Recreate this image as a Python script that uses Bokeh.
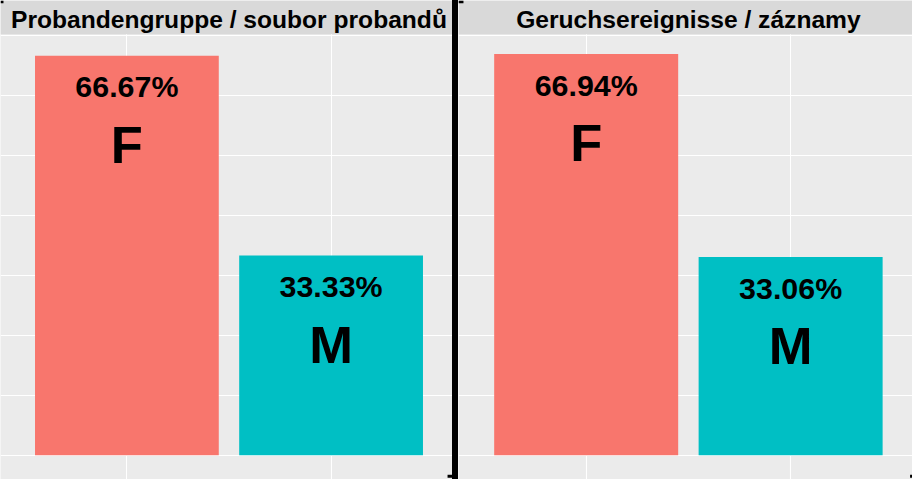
from bokeh.plotting import figure
from bokeh.models import Range1d, FixedTicker, BoxAnnotation, Label, ColumnDataSource, Div
from bokeh.layouts import row
from bokeh.embed import file_html
from bokeh.resources import INLINE
from bokeh.core.properties import value

# ---- data ----
panel_titles = ["Probandengruppe / soubor probandů", "Geruchsereignisse / záznamy"]
categories = ["F", "M"]
share_subjects = [66.67, 33.33]
share_records = [66.94, 33.06]
bar_colors = ["#F8766D", "#00BFC4"]
y_breaks = [0, 10, 20, 30, 40, 50, 60, 70]

# ---- layout ----
H = 479
Y0, Y1 = -4.04, 75.87
STRIP_BOTTOM = 70.22
FONT_NAME = "Liberation Sans"
FONT = value(FONT_NAME)


def make_panel(title, values, width, x_start, x_end):
    p = figure(width=width, height=H,
               x_range=Range1d(x_start, x_end), y_range=Range1d(Y0, Y1),
               output_backend="svg", toolbar_location=None, min_border=0)
    p.background_fill_color = "#EBEBEB"
    p.border_fill_color = "#EBEBEB"
    p.outline_line_color = None
    p.xaxis.visible = False
    p.yaxis.visible = False
    p.xgrid.ticker = FixedTicker(ticks=list(range(1, len(categories) + 1)))
    p.ygrid.ticker = FixedTicker(ticks=y_breaks)
    for g in (p.xgrid, p.ygrid):
        g.grid_line_color = "white"
        g.grid_line_width = 1.1
    xs = list(range(1, len(categories) + 1))
    src = ColumnDataSource(dict(
        x=xs, top=values, color=bar_colors, cat=categories,
        pct=[f"{v:.2f}%" for v in values],
        pct_y=[v - 5.1 for v in values],
        cat_y=[v - 14.8 for v in values],
    ))
    p.vbar(x="x", top="top", bottom=0, width=0.9, fill_color="color",
           line_color=None, source=src)
    p.text(x="x", y="pct_y", text="pct", source=src, text_font=FONT,
           text_font_style="bold", text_font_size="30.4px", text_color="black",
           text_align="center", text_baseline="middle")
    p.text(x="x", y="cat_y", text="cat", source=src, text_font=FONT,
           text_font_style="bold", text_font_size="52.5px", text_color="black",
           text_align="center", text_baseline="middle")
    p.add_layout(BoxAnnotation(bottom=STRIP_BOTTOM, fill_color="#D9D9D9",
                               fill_alpha=1, line_alpha=0))
    p.add_layout(Label(x=1.5, y=72.75, text=title, text_font=FONT_NAME,
                       text_font_style="bold", text_font_size="24.6px",
                       text_color="black", text_align="center",
                       text_baseline="middle"))
    return p


def hook(p, left, right, bottom, top):
    p.add_layout(BoxAnnotation(left=left, right=right, bottom=bottom, top=top,
                               fill_color="black", fill_alpha=1, line_alpha=0))


lx0, rx0 = 0.381, 0.3755
left = make_panel(panel_titles[0], share_subjects, 452, lx0, lx0 + 456 / 206)
right = make_panel(panel_titles[1], share_records, 454, rx0, rx0 + 458 / 206.25)

# small bracket ends of the surrounding frame
hook(left, lx0, lx0 + 3 / 206, 75.4, Y1)
hook(left, lx0 + 451 / 206, lx0 + 457 / 206, -3.75, -3.25)
hook(right, rx0, rx0 + 5 / 206, 75.4, Y1)
hook(right, rx0 + 455 / 206, rx0 + 458 / 206, -3.75, -3.25)

divider = Div(width=6, height=H, margin=0,
              styles={"background-color": "black"})

layout = row(left, divider, right, spacing=0)
open("out.html", "w").write(file_html(layout, INLINE))
